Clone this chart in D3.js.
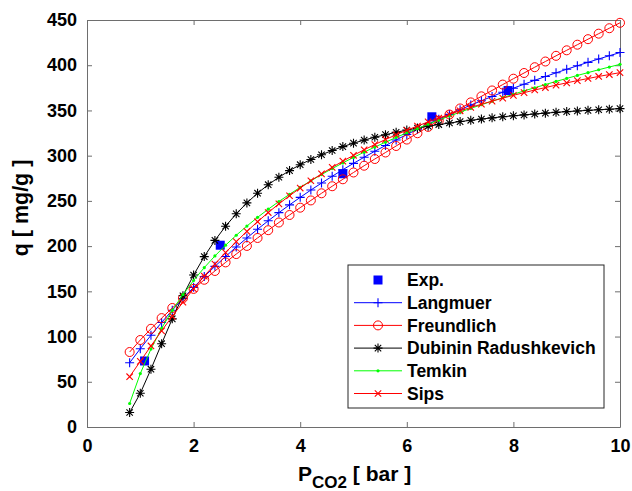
<!DOCTYPE html>
<html><head><meta charset="utf-8">
<script src="https://cdn.jsdelivr.net/npm/d3@7"></script>
<style>body{margin:0;background:#fff}svg{display:block}</style>
</head><body><svg id="c" width="632" height="491"></svg>
<script>
const pressure = [0.8,1.0,1.2,1.4,1.6,1.8,2.0,2.2,2.4,2.6,2.8,3.0,3.2,3.4,3.6,3.8,4.0,4.2,4.4,4.6,4.8,5.0,5.2,5.4,5.6,5.8,6.0,6.2,6.4,6.6,6.8,7.0,7.2,7.4,7.6,7.8,8.0,8.2,8.4,8.6,8.8,9.0,9.2,9.4,9.6,9.8,10.0];
const langmuer = [71.0,86.6,101.4,115.6,129.1,142.1,154.4,166.3,177.6,188.5,199.0,209.0,218.7,228.0,237.0,245.6,253.9,262.0,269.7,277.2,284.5,291.5,298.3,304.9,311.2,317.4,323.4,329.2,334.9,340.3,345.6,350.8,355.9,360.7,365.5,370.1,374.6,379.0,383.3,387.5,391.6,395.5,399.4,403.2,406.9,410.5,414.0];
const freundlich = [82.9,96.2,108.6,120.4,131.6,142.4,152.7,162.8,172.5,182.0,191.2,200.2,209.0,217.6,226.1,234.4,242.5,250.5,258.4,266.2,273.9,281.4,288.9,296.3,303.5,310.7,317.8,324.8,331.8,338.7,345.5,352.2,358.9,365.6,372.1,378.6,385.1,391.4,397.8,404.1,410.4,416.5,422.7,428.8,434.9,440.9,446.9];
const dubinin = [16.0,37.3,63.9,92.1,119.6,145.1,168.0,188.4,206.3,222.0,235.7,247.8,258.5,267.9,276.1,283.5,290.0,295.8,301.0,305.7,310.0,313.8,317.2,320.4,323.2,325.8,328.3,330.5,332.5,334.4,336.1,337.7,339.1,340.5,341.8,343.0,344.1,345.1,346.1,347.0,347.9,348.7,349.4,350.1,350.8,351.4,352.0];
const temkin = [26.0,59.1,86.2,109.1,128.9,146.4,162.0,176.2,189.1,201.0,212.0,222.2,231.8,240.8,249.3,257.3,265.0,272.2,279.1,285.7,292.0,298.1,303.9,309.5,314.9,320.1,325.2,330.0,334.8,339.3,343.8,348.1,352.3,356.3,360.3,364.1,367.9,371.6,375.1,378.6,382.1,385.4,388.7,391.8,395.0,398.0,401.0];
const sips = [55.6,72.6,89.6,106.3,122.4,137.9,152.7,166.8,180.2,192.9,204.9,216.3,227.0,237.1,246.7,255.7,264.2,272.3,279.9,287.1,293.9,300.4,306.5,312.3,317.9,323.1,328.1,332.8,337.3,341.6,345.7,349.6,353.4,356.9,360.3,363.6,366.7,369.7,372.6,375.3,378.0,380.5,383.0,385.3,387.6,389.7,391.8];
const expP = [1.08,2.5,4.8,6.47,7.9];
const expQ = [73,201,280,343,372];
const xTicks = [0,2,4,6,8,10];
const yTicks = [0,50,100,150,200,250,300,350,400,450];
const seriesNames = ["Langmuer","Freundlich","Dubinin Radushkevich","Temkin","Sips"];
const seriesColors = ["#0000ff","#ff0000","#000000","#00ff00","#ff0000"];
const seriesMarkers = ["plus","circle","star","dot","x"];
const seriesValues = [langmuer,freundlich,dubinin,temkin,sips];

const FONT = "'Liberation Sans', Arial, Helvetica, sans-serif";
const svg = d3.select("#c");
const L=87,R=620,T=20,B=427;
const x = d3.scaleLinear().domain([0,10]).range([L,R]);
const y = d3.scaleLinear().domain([0,450]).range([B,T]);
const axisCol = "#6e6e6e";

function styleAxis(g, labels){
  g.select(".domain").attr("stroke",axisCol).attr("stroke-width",1);
  g.selectAll(".tick line").attr("stroke",axisCol).attr("stroke-width",1);
  g.selectAll(".tick text").attr("fill","#000").attr("font-family",FONT)
   .attr("font-weight","bold").attr("font-size",labels?18:0);
}
const gx = svg.append("g").attr("transform",`translate(0,${B})`)
  .call(d3.axisBottom(x).tickValues(xTicks).tickSizeInner(-5).tickSizeOuter(0).tickPadding(12).tickFormat(d3.format("d")));
styleAxis(gx,true);
const gy = svg.append("g").attr("transform",`translate(${L},0)`)
  .call(d3.axisLeft(y).tickValues(yTicks).tickSizeInner(-5).tickSizeOuter(0).tickPadding(10).tickFormat(d3.format("d")));
styleAxis(gy,true);
const gt = svg.append("g").attr("transform",`translate(0,${T})`)
  .call(d3.axisTop(x).tickValues(xTicks).tickSizeInner(-5).tickSizeOuter(0).tickFormat(""));
styleAxis(gt,false);
const gr = svg.append("g").attr("transform",`translate(${R},0)`)
  .call(d3.axisRight(y).tickValues(yTicks).tickSizeInner(-5).tickSizeOuter(0).tickFormat(""));
styleAxis(gr,false);

// axis labels
svg.append("text").attr("transform",`translate(28,208) rotate(-90)`)
  .attr("text-anchor","middle").attr("font-family",FONT).attr("font-weight","bold")
  .attr("font-size",21.5).text("q [ mg/g ]");
const xl = svg.append("text").attr("x",298).attr("y",481).attr("text-anchor","start")
  .attr("font-family",FONT).attr("font-weight","bold").attr("font-size",21);
xl.append("tspan").text("P");
xl.append("tspan").attr("dy",7).attr("font-size",17).text("CO2");
xl.append("tspan").attr("dy",-7).text(" [ bar ]");

function markerPath(type){
  switch(type){
    case "plus": return "M-4.5,0H4.5M0,-4.5V4.5";
    case "x": return "M-3.2,-3.2L3.2,3.2M-3.2,3.2L3.2,-3.2";
    case "star": return "M-4.5,0H4.5M0,-4.5V4.5M-3.2,-3.2L3.2,3.2M-3.2,3.2L3.2,-3.2";
  }
  return null;
}
function drawMarker(g, type, color, cx, cy){
  if(type==="circle"){
    g.append("circle").attr("cx",cx).attr("cy",cy).attr("r",4.5).attr("fill","none").attr("stroke",color).attr("stroke-width",1);
  } else if(type==="dot"){
    g.append("circle").attr("cx",cx).attr("cy",cy).attr("r",1.6).attr("fill",color);
  } else {
    g.append("path").attr("transform",`translate(${cx},${cy})`).attr("d",markerPath(type)).attr("stroke",color).attr("stroke-width",1.1).attr("fill","none");
  }
}

// experimental points
const gExp = svg.append("g");
expP.forEach((p,i)=>{
  gExp.append("rect").attr("x",x(p)-4.5).attr("y",y(expQ[i])-4.5).attr("width",9).attr("height",9).attr("fill","#0000ff");
});

// model series
const line = d3.line().x((d,i)=>x(pressure[i])).y(d=>y(d));
seriesValues.forEach((vals,si)=>{
  const g = svg.append("g");
  g.append("path").datum(vals).attr("d",line).attr("fill","none")
    .attr("stroke",seriesColors[si]).attr("stroke-width",1);
  vals.forEach((v,i)=>drawMarker(g, seriesMarkers[si], seriesColors[si], x(pressure[i]), y(v)));
});

// legend
const lg = svg.append("g");
lg.append("rect").attr("x",348).attr("y",265).attr("width",256).attr("height",143)
  .attr("fill","#fff").attr("stroke","#262626").attr("stroke-width",1);
const rowY = i => 280 + i*22.7;
lg.append("rect").attr("x",378-4.5).attr("y",rowY(0)-4.5).attr("width",9).attr("height",9).attr("fill","#0000ff");
lg.append("text").attr("x",407).attr("y",rowY(0)).attr("dy","0.36em").attr("font-family",FONT)
  .attr("font-weight","bold").attr("font-size",17.5).text("Exp.");
seriesNames.forEach((n,si)=>{
  const yy = rowY(si+1);
  lg.append("line").attr("x1",354).attr("x2",402).attr("y1",yy).attr("y2",yy)
    .attr("stroke",seriesColors[si]).attr("stroke-width",1);
  drawMarker(lg, seriesMarkers[si], seriesColors[si], 378, yy);
  lg.append("text").attr("x",407).attr("y",yy).attr("dy","0.36em").attr("font-family",FONT)
    .attr("font-weight","bold").attr("font-size",17.5).text(n);
});
</script></body></html>
